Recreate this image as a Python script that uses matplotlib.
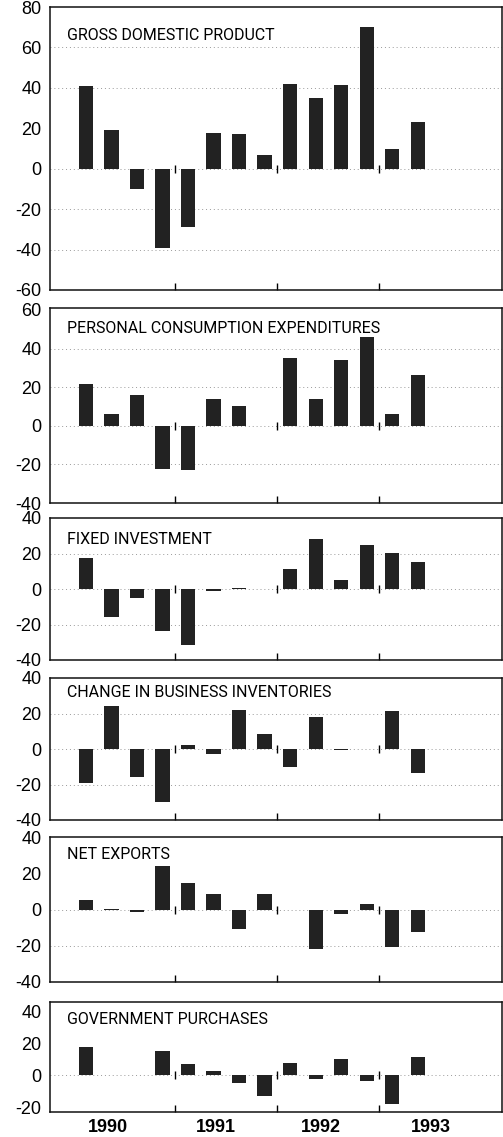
import matplotlib
matplotlib.use('Agg')
import matplotlib.pyplot as plt
import numpy as np

# * Quarterly changes, 1990 Q1 - 1993 Q2

quarters = np.arange(14)
year_labels = ['1990', '1991', '1992', '1993']
year_label_pos = [0.85, 5.1, 9.2, 13.5]
year_bounds = [3.5, 7.5, 11.5]

gdp = [41, 19, -10, -39, -29, 17.5, 17, 7, 42, 35, 41.5, 70, 10, 23]
pce = [21.5, 6, 16, -22.5, -23, 14, 10, 0, 35, 14, 34, 46, 6, 26.5]
fixed_inv = [17.5, -15.5, -5, -23.5, -31.5, -1, 0.5, 0, 11, 28, 5, 25, 20.5, 15]
inventories = [-19, 24.5, -15.5, -30, 2, -3, 22, 8.5, -10, 18, -0.5, 0, 21.5, -13.5]
net_exports = [5.5, 0.5, -1.5, 24, 14.5, 8.5, -11, 8.5, 0, -22, -2.5, 3, -20.5, -12.5]
government = [18, 0, 0.3, 15.5, 7, 2.5, -5, -13, 7.5, -2, 10, -3.5, -18, 11.5]

panels = [
    ('GROSS DOMESTIC PRODUCT', gdp, (-60, 80), [-60, -40, -20, 0, 20, 40, 60, 80],
     [-40, -20, 0, 40, 60], (7, 290), 21),
    ('PERSONAL CONSUMPTION EXPENDITURES', pce, (-40, 61), [-40, -20, 0, 20, 40, 60],
     [-20, 0, 20, 40], (308, 503), 13),
    ('FIXED INVESTMENT', fixed_inv, (-40, 40), [-40, -20, 0, 20, 40],
     [-20, 0, 20], (518, 660), 14),
    ('CHANGE IN BUSINESS INVENTORIES', inventories, (-40, 40), [-40, -20, 0, 20, 40],
     [-20, 0, 20], (678, 820), 7),
    ('NET EXPORTS', net_exports, (-40, 40), [-40, -20, 0, 20, 40],
     [-20, 0], (837, 982), 10),
    ('GOVERNMENT PURCHASES', government, (-23, 46), [-20, 0, 20, 40],
     [0], (1002, 1112), 10),
]

plt.rcParams['font.family'] = ['Liberation Sans', 'DejaVu Sans']
title_font = ['Liberation Sans Narrow', 'Roboto', 'Liberation Sans']

W, H = 503, 1137
fig = plt.figure(figsize=(W / 100, H / 100), dpi=100)
fig.patch.set_facecolor('white')

left_px, right_px = 50, 502
for title, vals, ylim, yticks, grid, (top, bottom), toff in panels:
    ax = fig.add_axes([left_px / W, 1 - bottom / H,
                       (right_px - left_px) / W, (bottom - top) / H])
    ax.set_xlim(-1.41, 16.3)
    ax.set_ylim(*ylim)

    for g in grid:
        ax.axhline(g, color='#999999', lw=0.7, ls=(0, (1, 3)), zorder=1)

    ax.bar(quarters, vals, width=0.56, color='#222222', zorder=2)

    # little year marks on the zero line
    ax.plot(year_bounds, [0] * len(year_bounds), ls='none', marker='|',
            ms=6, mew=1, color='black', zorder=3)

    ax.set_yticks(yticks)
    ax.set_yticklabels([str(t) for t in yticks])
    ax.tick_params(axis='y', length=0, pad=6, labelsize=13)
    ax.set_xticks(year_bounds)
    ax.set_xticklabels([])
    ax.tick_params(axis='x', direction='in', length=5, width=1)

    for s in ax.spines.values():
        s.set_linewidth(1.1)
        s.set_color('#111111')

    ax.annotate(title, xy=(0, 1), xycoords='axes fraction',
                xytext=(17 * 0.72, -toff * 0.72), textcoords='offset points',
                ha='left', va='top', fontsize=11.5, family=title_font)

    last_ax = ax

for lab, pos in zip(year_labels, year_label_pos):
    last_ax.text(pos, -0.14, lab, transform=last_ax.get_xaxis_transform(),
                 ha='center', va='center', fontsize=13, fontweight='bold')

fig.savefig('out.png', dpi=100)
